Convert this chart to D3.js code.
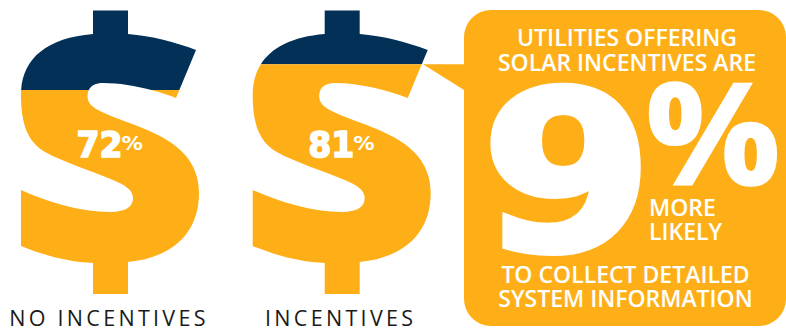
<!DOCTYPE html>
<html>
<head>
<meta charset="utf-8">
<script src="https://cdn.jsdelivr.net/npm/d3@7"></script>
<style>
  html, body { margin: 0; padding: 0; background: #fff; }
  svg { display: block; }
</style>
</head>
<body>
<svg id="chart" width="786" height="331"></svg>
<script>
// Share of utilities collecting detailed system information
const categories = ["NO INCENTIVES", "INCENTIVES"];
const shares = [72, 81];
const headline = "9";
const headerLines = ["UTILITIES OFFERING", "SOLAR INCENTIVES ARE"];
const sideLines = ["MORE", "LIKELY"];
const footerLines = ["TO COLLECT DETAILED", "SYSTEM INFORMATION"];

const AMBER = "#FEAF17";
const NAVY = "#023056";
const W = 786, H = 331;

const svg = d3.select("#chart");

// Vertical fill scale: 0% sits at the foot of the dollar stem, 100% at its head
const fillY = d3.scaleLinear().domain([0, 100]).range([294, 10.5]);
// Horizontal placement of each dollar sign
const slotX = d3.scalePoint().domain(categories).range([0, 231.7]);

// Dollar sign outline, in the coordinate frame of the first slot
const dollarPath = [
  "M93,10.5 H128 V34",
  "C152,36 175,42 196,50",
  "L176,98",
  "C155,90 128,83 103,83",
  "C93,83 87.5,88 87.5,96",
  "C87.5,103 92,107 100,111",
  "C115,119 150,128 170,142",
  "C188,154 199,170 199,193",
  "C199,235 170,258 128,262",
  "V294 H93 V263",
  "C68,262 43,255 21,246",
  "V190",
  "C48,202 80,212 110,212",
  "C125,212 133,207 133,198",
  "C133,190 125,185 113,180",
  "C90,170 65,163 45,152",
  "C28,142 21,125 21,95",
  "C21,60 45,38 93,34 Z"
].join(" ");

const defs = svg.append("defs");
const slots = svg.selectAll("g.slot")
  .data(categories.map((name, i) => ({ name, share: shares[i], i })))
  .join("g")
  .attr("class", "slot")
  .attr("transform", d => `translate(${slotX(d.name)},0)`);

slots.each(function (d) {
  const level = fillY(d.share);
  defs.append("clipPath").attr("id", `full-${d.i}`)
    .append("rect").attr("x", 0).attr("y", level).attr("width", 230).attr("height", H - level);
  defs.append("clipPath").attr("id", `empty-${d.i}`)
    .append("rect").attr("x", 0).attr("y", 0).attr("width", 230).attr("height", level);
  const g = d3.select(this);
  g.append("path").attr("d", dollarPath).attr("fill", NAVY).attr("clip-path", `url(#empty-${d.i})`);
  g.append("path").attr("d", dollarPath).attr("fill", AMBER).attr("clip-path", `url(#full-${d.i})`);

  // Value label: wide heavy digits with a small raised percent sign
  const label = g.append("g").attr("transform", "translate(76.5,156.5)");
  label.append("text")
    .attr("transform", "scale(0.92,1)")
    .attr("font-family", "DejaVu Sans").attr("font-weight", 700).attr("font-size", 36)
    .attr("fill", "#fff").attr("stroke", "#fff").attr("stroke-width", 1.6)
    .text(d.share);
  label.append("text")
    .attr("transform", "translate(45,-7) scale(1.12,1)")
    .attr("font-family", "DejaVu Sans").attr("font-weight", 700).attr("font-size", 19)
    .attr("fill", "#fff")
    .text("%");
});

// Category names under each dollar sign
slots.append("text")
  .attr("x", 109).attr("y", 325.5)
  .attr("text-anchor", "middle")
  .attr("font-family", "Open Sans").attr("font-size", 21.5).attr("letter-spacing", 3.3)
  .attr("fill", "#1a1a1a")
  .text(d => d.name);

// Callout panel with its pointer toward the second dollar sign
const pointerLevel = fillY(shares[1]);
svg.append("path")
  .attr("d", d3.line()([[423, pointerLevel], [470, pointerLevel], [470, 94], [464, 90]]))
  .attr("fill", AMBER);
svg.append("rect")
  .attr("x", 464).attr("y", 10).attr("width", 322).attr("height", 316)
  .attr("rx", 27).attr("fill", AMBER);

const panelText = (lines, x, ys, anchor) => svg.append("g")
  .selectAll("text").data(lines).join("text")
  .attr("x", x).attr("y", (d, i) => ys[i])
  .attr("text-anchor", anchor)
  .attr("font-family", "Open Sans").attr("font-weight", 600).attr("font-size", 23)
  .attr("fill", "#fff")
  .text(d => d);

panelText(headerLines, 627, [46, 71], "middle");
panelText(sideLines, 649, [216, 240], "start");
panelText(footerLines, 625.5, [283, 307], "middle");

// Oversized headline figure
svg.append("text")
  .attr("transform", "translate(481,249.5) scale(1.115,1)")
  .attr("font-family", "DejaVu Sans").attr("font-weight", 700).attr("font-size", 222)
  .attr("fill", "#fff").attr("stroke", "#fff").attr("stroke-width", 6)
  .text(headline);
svg.append("text")
  .attr("transform", "translate(645,185) scale(1.07,1)")
  .attr("font-family", "Open Sans").attr("font-weight", 700).attr("font-size", 141)
  .attr("fill", "#fff").attr("stroke", "#fff").attr("stroke-width", 1.5)
  .text("%");
</script>
</body>
</html>
